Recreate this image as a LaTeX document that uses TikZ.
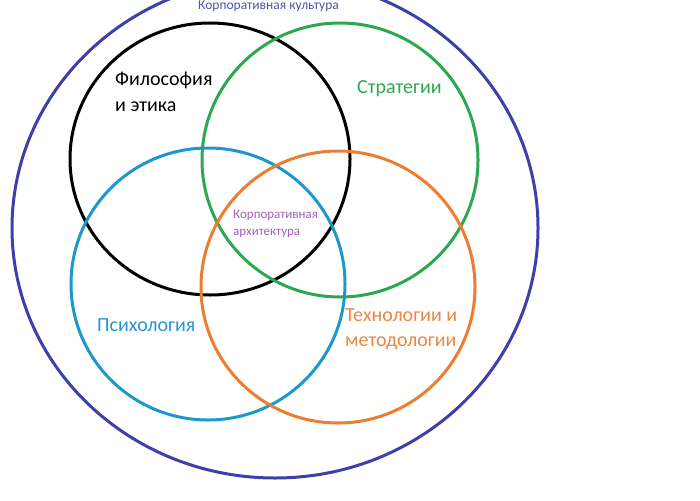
\documentclass[tikz,border=0pt]{standalone}
\usepackage{fontspec}
\setmainfont{Carlito}
\definecolor{cBig}{RGB}{63,63,170}
\definecolor{cGreen}{RGB}{44,168,80}
\definecolor{cCyan}{RGB}{28,152,204}
\definecolor{cOrange}{RGB}{237,125,49}
\definecolor{tBig}{RGB}{80,80,175}
\definecolor{tPurple}{RGB}{165,95,185}
\definecolor{tCyan}{RGB}{40,150,205}
\definecolor{tOrange}{RGB}{235,135,70}
\tikzset{
  ring/.style={line width=3pt},
  big/.style={font=\fontsize{20}{25}\selectfont, anchor=base west, inner sep=0pt, align=left},
  small/.style={font=\fontsize{13}{17}\selectfont, anchor=base west, inner sep=0pt, align=left}
}
\begin{document}
\begin{tikzpicture}[x=1pt,y=-1pt]
\useasboundingbox (0,0) rectangle (700,500);
\clip (0,0) rectangle (700,500);
\draw[ring, cBig] (275,228) ellipse [x radius=263, y radius=250];
\draw[ring, black] (210,159) ellipse [x radius=140, y radius=136];
\draw[ring, cGreen] (340,160) ellipse [x radius=138, y radius=137];
\draw[ring, cCyan] (208,284) ellipse [x radius=137, y radius=136];
\draw[ring, cOrange] (338,287) ellipse [x radius=137, y radius=136];
\node[small, text=tBig, font=\fontsize{13.5}{17}\selectfont] (kult) at (198,10) {Корпоративная культура};
\node[big, text=black] (phil) at (115,111) {Философия\\и этика};
\node[big, text=cGreen] (strat) at (357,94) {Стратегии};
\node[small, text=tPurple] (arch) at (233,235) {Корпоративная\\архитектура};
\node[big, text=tCyan] (psy) at (97,331) {Психология};
\node[big, text=tOrange] (tech) at (345,346) {Технологии и\\методологии};
\end{tikzpicture}
\end{document}
